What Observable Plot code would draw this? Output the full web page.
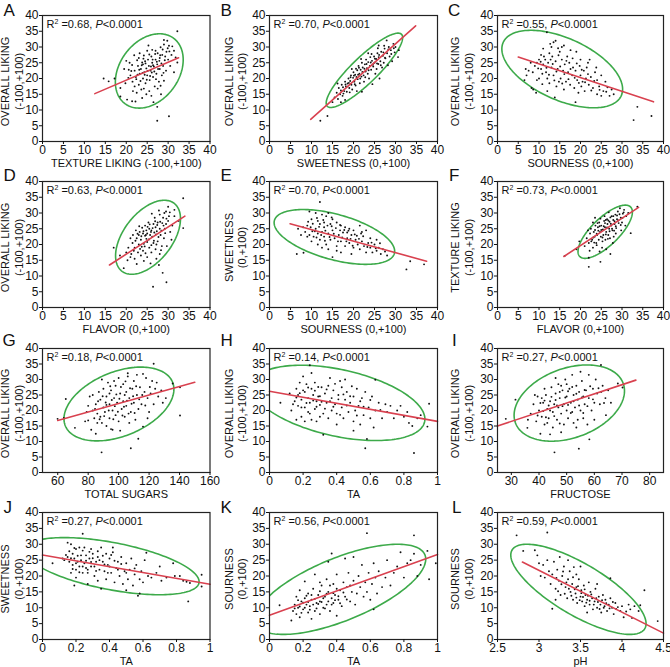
<!DOCTYPE html>
<html><head><meta charset="utf-8">
<script src="https://cdn.jsdelivr.net/npm/d3@7"></script>
<script src="https://cdn.jsdelivr.net/npm/@observablehq/plot@0.6"></script>
<style>
body{margin:0;background:#fff;}
#chart{position:relative;width:670px;height:667px;background:#fff;overflow:hidden;font-family:"Liberation Sans",Arial,sans-serif;}
#chart svg{position:absolute;}
</style></head><body><div id="chart"></div>
<script>
// ---------- data ----------
const panelLetters = ["A","B","C","D","E","F","G","H","I","J","K","L"];
const xLabels = ["TEXTURE LIKING (-100,+100)","SWEETNESS (0,+100)","SOURNESS (0,+100)",
  "FLAVOR (0,+100)","SOURNESS (0,+100)","FLAVOR (0,+100)",
  "TOTAL SUGARS","TA","FRUCTOSE","TA","TA","pH"];
const yLabels = [
  ["OVERALL LIKING","(-100,+100)"],["OVERALL LIKING","(-100,+100)"],["OVERALL LIKING","(-100,+100)"],
  ["OVERALL LIKING","(-100,+100)"],["SWEETNESS","(0,+100)"],["TEXTURE LIKING","(-100,+100)"],
  ["OVERALL LIKING","(-100,+100)"],["OVERALL LIKING","(-100,+100)"],["OVERALL LIKING","(-100,+100)"],
  ["SWEETNESS","(0,+100)"],["SOURNESS","(0,+100)"],["SOURNESS","(0,+100)"]];
const r2Values = ["0.68","0.70","0.55","0.63","0.70","0.73","0.18","0.14","0.27","0.27","0.56","0.59"];
const pText = "P<0.0001";
const xDomains = [[0,40],[0,40],[0,40],[0,40],[0,40],[0,40],[50,160],[0,1],[25,85],[0,1],[0,1],[2.5,4.5]];
const ticks0to40 = [0,5,10,15,20,25,30,35,40];
const ticksTA = [0,0.2,0.4,0.6,0.8,1];
const xTicks = [ticks0to40,ticks0to40,ticks0to40,ticks0to40,ticks0to40,ticks0to40,
  [60,80,100,120,140,160],ticksTA,[30,40,50,60,70,80],ticksTA,ticksTA,[2.5,3,3.5,4,4.5]];
const yTicks = ticks0to40;
const yDomain = [0,40];

// regression line end points
const regressions = [
  [[12.5,15.2],[32.5,26.6]],
  [[9.8,7.05],[34.8,36.7]],
  [[5,26.8],[37.6,12.6]],
  [[16,13.5],[34,29]],
  [[4.9,26.6],[37.4,14.7]],
  [[16,16.2],[34,31.8]],
  [[60,16.8],[150,29.1]],
  [[0,26.2],[1,16.5]],
  [[25,15],[75,29.8]],
  [[0,26.6],[1,17.4]],
  [[0,7.6],[1,26.8]],
  [[2.8,24.4],[4.5,2.0]]
];
// confidence ellipses: centre, half extents, correlation
const ellipses = [
  {mx:25.5, my:22.4, A:8.1, B:11.8, r:0.3},
  {mx:22.6, my:22.6, A:9.1, B:11.8, r:0.88},
  {mx:15.6, my:23, A:14.55, B:12.3, r:-0.52},
  {mx:25.2, my:22.3, A:7.75, B:11.75, r:0.5},
  {mx:15.45, my:22.4, A:14.35, B:8.7, r:-0.52},
  {mx:25.95, my:24.05, A:6.55, B:8.45, r:0.74},
  {mx:100.2, my:22.1, A:36.1, B:11.9, r:0.4},
  {mx:0.41, my:22.45, A:0.515, B:12.15, r:-0.43},
  {mx:50.95, my:22.4, A:19.95, B:12.3, r:0.32},
  {mx:0.414, my:23.1, A:0.521, B:9.0, r:-0.544},
  {mx:0.422, my:15.8, A:0.508, B:14.2, r:0.669},
  {mx:3.475, my:15.8, A:0.815, B:14.2, r:-0.76}
];

const pointsA = [[32.2,35],[14.6,20],[15.8,19.1],[17.2,20],[18.6,17],[19.5,23],[20,25.6],[20.8,25],[18.6,14.3],[20.2,13.3],[21.4,12.8],[22.2,12.7],[21.9,27.4],[23.8,25.1],[24.2,27.3],[25,28.8],[26.2,29.1],[27,28.8],[28.2,29.9],[29,32.2],[29.8,32],[30.2,30.4],[31.4,28.8],[31.8,26.7],[32.2,25.1],[31.4,22],[27.4,11],[27.4,6.6],[30.2,8],[28.2,17.7],[29,19.3],[21,21],[21.5,19],[22,22.5],[22.3,20.5],[22.8,24],[23,18],[23.2,21.5],[23.5,23],[23.6,16.5],[24,24.5],[24,20],[24.3,22],[24.5,25.5],[24.6,18.5],[24.8,23.2],[25,21],[25.2,26],[25.4,24],[25.5,16],[25.6,19.5],[25.8,22.5],[26,27],[26,14.5],[26.2,25],[26.4,20.5],[26.6,23.8],[26.8,17.5],[27,26],[27.2,21.5],[27.4,24.5],[27.5,28],[27.8,19],[28,23],[28,26.5],[28.3,15],[28.5,21],[28.6,27.5],[28.8,24],[29.2,25.8],[29.5,22.5],[29.6,28.5],[30,26],[30.5,24],[30.8,27.5],[21.6,16],[22.5,15.5],[23,26.5],[20.5,20.2],[19.8,18.5],[20.6,22.8],[22,17.5],[23.8,13.8],[24.8,15],[26.5,12.5],[25.3,30.5],[23.2,28],[21.4,24.3],[22.7,21.2],[24.1,26.3],[26.1,21.9],[27.1,19.8],[29,30.8],[31,30.2],
  [22.4,19.8],[23.1,22.8],[23.7,24.2],[24.4,21.2],[24.9,19.6],[25.5,27.6],[25.9,23.8],[26.3,26],[26.7,22.2],[27.3,25.3],[27.6,23],[28.1,27.4],[28.4,24.8],[28.9,21.8],[29.3,27],[29.9,29.6],[24.2,16.8],[23.4,19.2],[22.6,25.8],[21.2,22.4],[25.1,22.4],[26.9,27.8],[27.9,25.6],[28.7,29.2],[30.3,28.6],[26.4,24.2],[25.7,20.8],[24.6,24.8],[23.9,21.8],[27.5,16.8]];
const pointsB = [[12.1,6.6],[13.8,8.1],[15,12.5],[15.5,14],[16,15.5],[16.3,13.5],[16.5,17],[16.8,15],[17,16.2],[17.2,18],[17.4,14.5],[17.5,17.2],[17.8,16],[18,19],[18.2,17.5],[18.4,15.8],[18.6,18.4],[18.8,20],[19,17],[19.2,19.2],[19.4,21],[19.5,18],[19.7,16.5],[19.9,20.2],[20,22],[20.2,19],[20.4,21.2],[20.5,17.8],[20.7,20.5],[20.9,22.6],[21,19.8],[21.2,24],[21.4,21.5],[21.5,18.5],[21.7,22.8],[21.9,20.6],[22,25],[22.2,23.5],[22.4,21],[22.5,19],[22.7,24.5],[22.9,22.2],[23,26],[23.2,23.3],[23.4,21.5],[23.5,25.2],[23.7,20],[23.9,24],[24,26.8],[24.2,22.8],[24.4,25.6],[24.5,18.2],[24.7,23.8],[24.9,27],[25,25],[25.2,21.5],[25.4,26.2],[25.5,23],[25.7,28],[25.9,24.6],[26,26.8],[26.2,20],[26.4,25.5],[26.6,28.5],[26.8,23.5],[27,27.2],[27.2,25],[27.4,29.5],[27.6,26.4],[27.9,32.1],[28,28],[28.2,24.2],[28.4,30],[28.6,27],[28.9,29],[29.2,25.5],[29.5,31],[29.8,28.3],[30,30],[30.6,26.8],[30.8,29],[17,12.5],[18,13.2],[22,15.8],[20.8,16],[23.5,28],[21.8,26.2],[26,30.5],[19.6,23],[16.2,18.4],
  [18.1,18.1],[18.9,18.6],[19.3,20.4],[20.1,20.9],[20.6,23.1],[21.1,21.2],[21.6,20],[22.1,22.1],[22.6,23.1],[23.1,24.6],[23.6,22.6],[24.1,25.1],[24.6,24.4],[25.1,26.3],[25.6,24.8],[26.1,27.5],[26.5,24.2],[27.1,28.3],[27.5,26.6],[28.3,29.2],[29,27.8],[29.6,29.6],[17.6,15.2],[19.1,15.6],[20.3,18.2],[21.3,23.4],[22.8,20.4],[24.3,27.8],[25.8,29.6],[27.3,30.4]];
const pointsC = [[11.9,34.7],[13.5,31.5],[14,32],[13,30],[12.5,28],[11,29.5],[10.5,27.5],[10,26],[9.5,25],[9,24],[8.5,22],[8,25],[7.5,22.5],[7,21],[6.5,19.5],[6.8,23],[8.2,17],[8.6,16.5],[9.3,15.5],[10,20],[10.5,23],[11,24.5],[11.5,26],[11.7,22],[12,20],[12.2,25],[12.5,18.5],[13,23.5],[13.2,27],[13.5,21],[14,25.5],[14.2,17.5],[14.5,23],[15,28.5],[15.2,20],[15.5,26],[15.8,22.5],[16,16.5],[16.2,24.5],[16.5,19],[16.8,27],[17,22],[17.3,25],[17.5,18],[18,21],[18.2,23.5],[18.5,17],[18.8,22.5],[19,28.5],[19.2,19.5],[19.5,15.5],[19.8,24],[20,21],[20.2,17.5],[20.5,19],[20.8,22.5],[21,16],[21.3,20],[21.5,23.5],[22,18],[22.2,26],[22.5,20.5],[23,17],[23.5,22],[24,15],[24,19.5],[24.5,17.5],[25,21],[25,14.5],[25.5,16],[26,19],[26.5,17.2],[27,14.5],[27.5,16.5],[28,15],[18.8,12.5],[15.5,30],[16,30.5],[20,26],[13.8,14],[12,16],[9.5,19.5],[33.7,11],[32.8,6.8],[37.1,8.1],[21.8,25],[23.8,23.5],[17.6,29],[10.8,21.5],[14.8,19],
  [9.8,23.2],[10.4,25.3],[10.8,18.2],[11.2,27],[11.8,23.4],[12.4,21.2],[12.8,26],[13.3,24.6],[13.7,19.4],[14.2,22.2],[14.7,27.4],[15.1,23.8],[15.6,18.4],[16.1,21.4],[16.6,25.6],[17.1,19.8],[17.6,23],[18.1,26.4],[18.6,20.2],[19.1,24.8],[19.6,18.6],[20.3,22.8],[21.1,18.8],[21.8,21.4],[22.6,16.2],[23.3,19.2],[24.6,16.4],[26.2,15.8],[12.7,31],[14.6,29.6]];
const pointsD = [[33.6,34.7],[17,19],[18.5,16.5],[19.4,12.5],[26.4,6.6],[29.6,8],[28.7,11],[33.6,25.2],[32.5,27.5],[31.5,29],[30,32],[29.5,30.5],[28.8,28.5],[28,29.5],[27.5,27],[27,25.5],[26.5,26.5],[26,24.5],[25.5,25],[25,23.5],[24.8,24.5],[24.5,22.8],[24,23.5],[23.5,21.5],[23.2,24],[23,20],[22.5,22],[22,19],[21.8,18],[21.5,20.5],[21.2,17],[21,16],[22,15.5],[22.8,17.5],[23.5,16.5],[24,18],[24.2,14.8],[25,16],[25.5,19],[25.8,14],[26,17.5],[26.5,20.5],[27,18.5],[27.2,15.5],[27.5,21],[28,17],[28.2,23],[28.5,19.5],[29,22],[29.2,25],[29.5,26.5],[30,27.5],[30.5,24],[30.2,29],[31,26],[31.5,31],[26.8,28.5],[27.8,30.8],[25.3,27],[24.5,26],[23.8,25.3],[26.2,22.5],[25,20.8],[24.2,20.2],[23,23],[22.3,24.5],[21,22],[20.5,19],[20,17.5],[22.5,13.8],[27.8,13.5],[29.7,19.5],[28,25],[26.7,23.8],[25.7,23],[24.8,21.8],[23.7,19.3],[27.3,24.2],[28.6,26.8],[30.8,21.5],[20.3,15],[26.1,29.8],
  [22.2,21.2],[22.7,23.4],[23.3,18.6],[23.6,22.6],[24.1,24.2],[24.4,19.4],[24.7,23],[25.1,25.6],[25.4,21.6],[25.9,24],[26.3,25.2],[26.6,21.2],[27.1,23.2],[27.4,26.2],[27.7,22.4],[28.1,27.2],[28.4,24.4],[28.9,26],[29.3,23.6],[29.6,28.2],[30.4,30.2],[26,19.8],[24.6,17.2],[23.1,25.8],[27.2,20],[28.3,18.2],[25.6,26.4],[26.9,27.4],[29.1,30],[21.6,23]];
const pointsE = [[12,33.5],[6.5,17],[8.1,17.4],[32.6,12.1],[33.5,14.7],[36.8,13.7],[9.5,30.5],[11,30],[12.5,29.5],[13.5,29],[14,30],[15,28],[10,28],[11.5,27.5],[12,26.5],[13,27],[14.5,26.5],[16,27],[17,26],[18,25.5],[19,25],[20,24.5],[21.5,26],[22,24],[23,24.5],[9,26],[8,25.5],[6.8,25],[7.5,23],[8.5,24],[9.5,23],[10.5,22.5],[11,25],[11.5,23.5],[12,21.5],[12.5,24],[13,22.5],[13.5,20],[14,23.5],[14.5,21.5],[15,24.5],[15.5,22],[16,19.5],[16.5,23],[17,21],[17.5,23.8],[18,19.5],[18.5,22],[19,20.5],[19.5,23],[20,19],[20.5,21.5],[21,20],[21.5,18.5],[22,21],[22.5,19.5],[23,17.5],[23.5,20.5],[24,19],[24.5,17.5],[25,20],[25.5,18],[26,19],[26.5,17],[27,18.5],[27.5,17.8],[28,16.5],[10,21],[9,22.5],[15,16],[16,18],[14,18.5],[12.5,19],[17,17.5],[19.5,17],[24,22],[25.5,21.5],[11.5,20],[13,25.5],[10.2,24.2],[14.8,25.8],[16.8,24.5],[18.5,23.8],[20.8,22.8],[21.8,23.5],[9.8,25.5],
  [9.2,27.2],[10.3,26.6],[10.8,24.2],[11.3,28.4],[11.8,25.6],[12.3,23],[12.8,27.8],[13.3,24.4],[13.8,26],[14.3,22.4],[14.8,28.6],[15.3,23.4],[15.8,25.2],[16.3,21],[16.8,26.2],[17.3,22.2],[17.8,24.6],[18.3,21],[18.8,24.4],[19.3,21.8],[19.8,19.6],[20.3,23.2],[21.3,21.8],[22.3,22.6],[23.3,19.2],[24.3,20.6],[25.3,18.8],[26.3,20.4],[11.2,22.2],[13.2,21.2]];
const pointsF = [[16.2,16.4],[19,18.5],[19.7,21],[22,12.9],[24.8,14.5],[22,15.8],[32.1,23.6],[33.7,32],[21,19.5],[21.5,22],[22,20.5],[22.3,23.5],[22.5,25],[22.8,21.5],[23,19],[23.2,24],[23.4,22.5],[23.6,26],[23.8,20.5],[24,23],[24.2,25.5],[24.4,21.5],[24.5,27],[24.7,24],[24.9,22.5],[25,26],[25.2,19],[25.4,24.8],[25.5,23],[25.7,27.5],[25.9,25.5],[26,21.5],[26.2,24],[26.4,28],[26.5,26.5],[26.7,23],[26.9,25],[27,27.2],[27.2,17],[27.4,26],[27.5,29],[27.7,24.5],[27.9,27.8],[28,22.5],[28.2,26.5],[28.4,29.5],[28.6,25.2],[28.8,28],[29,30.5],[29.2,26.8],[29.5,31.5],[29.7,28.5],[30,27],[30.2,29.8],[30.5,31],[31,29],[31.5,30],[30.8,26],[23.5,28.5],[22.2,18],[26.2,18.5],[27.8,20.5],[24.6,17.8],[25.8,29],[24.1,26.8],[23,27],[21.8,24.5],[28.5,23.5],[26.8,30.2],[29.8,24.5],[25.3,21],[27.1,22],[23.9,19.8],[22.6,21],
  [23.1,22.2],[23.5,24.6],[23.9,23.4],[24.3,24.4],[24.6,25.8],[25,24.6],[25.3,22.2],[25.6,25.8],[25.9,26.8],[26.1,23.2],[26.4,25.4],[26.7,27.6],[27,24.2],[27.3,26.6],[27.6,25],[27.9,29],[28.2,27.4],[28.5,25.8],[28.8,29.2],[29.1,27.6],[29.4,29.6],[29.7,26.2],[30.1,28.4],[24.8,28.2],[26.1,27.8],[27.2,28.6],[23.3,20.6],[26.6,21.8],[28.1,24.4],[30.4,30.2]];
const pointsG = [[65.3,23.7],[59.9,17.3],[64,17.6],[71.3,14.4],[88.8,6.5],[108,7.8],[112.9,10.9],[140.3,18.4],[123,35.1],[140.3,27.5],[135.5,28.7],[78,16.5],[79,19.5],[80,21.5],[81,24.5],[82,13.8],[83,25],[84,17.5],[85,22],[85,12.5],[86,19],[87,26],[88,18],[88,23.5],[89,16],[90,21],[90,27],[91,19.5],[92,24.5],[92,15],[93,29],[94,22],[94,17.5],[95,26.5],[96,20],[96,13.8],[97,24],[98,28],[98,18.5],[99,22.5],[100,30.5],[100,16.5],[101,25.5],[102,20.5],[103,23],[103,28.5],[104,18],[105,26],[105,21.5],[106,31],[107,24],[107,16],[108,19.5],[109,27],[110,22.5],[110,29.5],[111,17],[112,25],[113,20.5],[114,27.5],[115,22],[116,14.8],[117,26],[118,30.5],[119,24],[120,19.5],[121,25.5],[122,29.5],[123,22],[124,27],[126,24.5],[128,26.5],[129,22.5],[131,24],[116,31.8],[106,32],[97,29.5],[92,21.8],[86,16],[83,20],[80,16.8],[95,14],[101,13.5],[89,30],[112,31.5],[119,17.5],[104,25],[94,25.5],
  [84.5,20.5],[86.5,23],[87.5,17.2],[89.5,24.6],[90.5,18.2],[91.5,22.6],[93.5,20],[94.5,27.8],[95.5,23.4],[96.5,17.2],[97.5,21.4],[98.5,25.2],[99.5,19.6],[100.5,23.8],[101.5,27.6],[102.5,18.4],[103.5,21.2],[104.5,29.4],[105.5,23.2],[106.5,19],[107.5,27.2],[108.5,22.2],[109.5,24.6],[110.5,19.2],[111.5,27.8],[113.5,23.6],[115.5,25],[117.5,21.6],[120.5,27.6],[125,29]];
const pointsH = [[0.065,22.5],[0.24,34.6],[0.25,32.1],[0.32,12.2],[0.57,7.8],[0.58,10.8],[0.86,6.3],[0.95,22.2],[0.94,14.8],[0.63,29.9],[0.12,25.5],[0.13,20],[0.15,23],[0.16,27],[0.17,21.5],[0.17,25],[0.18,29],[0.19,18],[0.19,23.5],[0.2,26.5],[0.21,16.5],[0.21,21],[0.22,28.5],[0.23,24],[0.23,19.5],[0.24,22.5],[0.25,27],[0.25,17],[0.26,25],[0.27,20.5],[0.28,23],[0.28,16.5],[0.29,24.5],[0.3,21.8],[0.31,27.5],[0.32,19],[0.33,25.5],[0.34,22.5],[0.35,28],[0.35,17.5],[0.36,30.5],[0.37,24],[0.37,20],[0.38,26.5],[0.39,22],[0.4,15.5],[0.4,19],[0.41,25],[0.42,29.5],[0.43,21],[0.44,17.5],[0.45,23.5],[0.46,26],[0.47,19.5],[0.48,22.5],[0.5,16.5],[0.5,24.5],[0.51,20],[0.52,27],[0.53,21.5],[0.54,15.5],[0.55,24],[0.56,18.5],[0.57,26],[0.59,21],[0.6,17.5],[0.61,24.5],[0.62,14.5],[0.63,20],[0.65,22.5],[0.67,17.5],[0.69,22],[0.7,19.5],[0.72,21.5],[0.74,17.5],[0.76,20],[0.78,21.5],[0.8,18],[0.82,19.5],[0.83,16],[0.85,15],[0.88,17.5],[0.9,18.5],[0.3,18],[0.27,29],[0.45,30],[0.5,13.5],[0.43,27.5],[0.16,17],[0.2,31],
  [0.14,22],[0.16,24.2],[0.18,25.6],[0.19,21],[0.21,26],[0.22,22.4],[0.23,27.4],[0.24,19],[0.26,23.2],[0.27,26.4],[0.28,21.2],[0.29,27.6],[0.3,24.6],[0.31,22.8],[0.33,20.6],[0.34,26.8],[0.36,23],[0.38,21.2],[0.39,28.6],[0.41,23.6],[0.42,18.6],[0.44,25.2],[0.46,21.6],[0.48,24.6],[0.49,27.8],[0.52,18.4],[0.54,23],[0.56,21.2],[0.6,23.4],[0.66,20.2]];
const pointsI = [[28,17.3],[31.5,23.5],[45.6,6.5],[54.4,7.7],[58.2,10.7],[62.4,34.7],[70.2,27.4],[68.5,28.7],[64.2,18.5],[35.8,14.4],[36,17],[37,19],[38,22],[39,16.5],[39.5,24.5],[40,20],[40.5,12.5],[41,18],[41.5,22.5],[42,15.5],[42.5,25],[43,20.5],[43.5,17.5],[44,23],[44.5,27.5],[45,14.5],[45,19.5],[45.5,22],[46,25.5],[46.5,17],[47,21],[47,28.5],[47.5,24],[48,19],[48.5,26.5],[49,15.5],[49,22],[49.5,30],[50,20],[50,24.5],[50.5,17.5],[51,27],[51.5,22.5],[52,19.5],[52,31.5],[52.5,25],[53,21],[53.5,28],[54,17],[54,23.5],[54.5,26],[55,20],[55.5,29.5],[56,24.5],[56.5,22],[57,26.5],[57.5,15.5],[58,31.5],[58,24],[59,20],[59.5,27],[60,22.5],[60.5,30],[61,25.5],[62,22],[62.5,26],[63,28],[64,24],[65,26.5],[66,22.5],[48,13],[44,12.3],[52.5,16],[56,17.5],[60,17],[38.5,25],[42,27],[46,30.5],[50,28.5],[55,32.5],[53.5,14.5],[47.5,15.8],[43,16],[41,24],
  [39.5,18.4],[40.5,22.4],[41.5,19.8],[42.5,17.8],[43.5,21.6],[44.5,24.4],[45.5,18.2],[46.5,21.6],[47.5,26],[48.5,21.4],[49.5,24.2],[50.5,21.8],[51.5,19.2],[52.5,23],[53.5,25.4],[54.5,21.6],[55.5,24.2],[56.5,26.6],[57.5,21.4],[58.5,27.8],[59.5,23.6],[61.5,27.2],[63.5,22.4],[46,23.4],[48,28],[50.5,26.2],[52,27.6],[44,20],[42,23.2],[56,19.2]];
const pointsJ = [[0.06,24],[0.24,33.3],[0.19,17],[0.58,14.5],[0.57,13.8],[0.87,12],[0.95,20.4],[0.95,16.7],[0.62,27.3],[0.12,25.5],[0.13,25],[0.15,26],[0.15,30.5],[0.16,24.5],[0.17,30],[0.17,21],[0.18,27],[0.18,23.5],[0.19,25.5],[0.2,28.5],[0.2,22],[0.21,24.5],[0.22,29],[0.22,23],[0.23,26.5],[0.24,21],[0.24,28],[0.25,24],[0.26,26.5],[0.26,22.5],[0.27,17.5],[0.28,25.5],[0.29,23],[0.3,27],[0.31,20],[0.32,24.5],[0.33,26],[0.34,22],[0.35,29],[0.35,16],[0.36,24.5],[0.37,21.5],[0.38,27],[0.38,19],[0.39,23.5],[0.4,25.5],[0.41,21],[0.42,27.5],[0.43,18],[0.44,22.5],[0.45,24.5],[0.46,20],[0.47,26],[0.48,17.5],[0.49,21.5],[0.5,24],[0.51,19],[0.52,22],[0.53,25.5],[0.54,17],[0.55,20.5],[0.56,23.5],[0.58,19],[0.59,21.5],[0.6,18],[0.61,25],[0.63,20],[0.65,19.5],[0.68,21],[0.7,23],[0.71,18.5],[0.74,19.5],[0.78,24],[0.79,20],[0.82,20],[0.84,18.5],[0.86,18.2],[0.88,17.8],[0.2,19.5],[0.29,28.5],[0.42,29],[0.33,18.5],[0.5,15.5],[0.27,21],
  [0.14,26.6],[0.16,27.8],[0.17,25.6],[0.18,22.2],[0.19,28.8],[0.2,24],[0.21,26.4],[0.22,21.2],[0.23,25],[0.24,23],[0.25,29],[0.26,24.8],[0.27,22],[0.28,27.6],[0.29,24.4],[0.3,25.6],[0.31,23],[0.32,21.6],[0.33,27.8],[0.34,25],[0.36,26.4],[0.37,23.6],[0.39,21],[0.4,23],[0.41,26.6],[0.43,24.8],[0.45,22],[0.47,23.8],[0.5,21],[0.55,22.4]];
const pointsK = [[0.58,33.5],[0.86,32.8],[0.06,10.8],[0.13,6],[0.95,19],[0.99,24],[0.94,27.9],[0.37,27.1],[0.5,26],[0.14,9],[0.15,11],[0.16,8],[0.16,13.5],[0.17,10],[0.18,15.5],[0.18,7],[0.19,12],[0.2,9.5],[0.21,13],[0.21,18.3],[0.22,11],[0.23,8.5],[0.23,14.5],[0.24,10.5],[0.25,6.5],[0.25,12.5],[0.26,16],[0.27,9],[0.27,20.5],[0.28,11.5],[0.29,14],[0.3,8],[0.3,12],[0.31,17],[0.32,10],[0.33,13.5],[0.34,19],[0.34,11],[0.35,24.5],[0.35,15],[0.36,9],[0.37,13],[0.38,17.5],[0.38,11.5],[0.39,14],[0.4,20.5],[0.41,12.5],[0.42,15.5],[0.43,10.5],[0.44,18],[0.45,13.5],[0.46,16.5],[0.47,21],[0.48,12],[0.49,15],[0.5,18.5],[0.51,11],[0.52,14.5],[0.53,20],[0.54,16.5],[0.55,23.5],[0.56,13.5],[0.57,18],[0.58,15],[0.59,21],[0.6,12.5],[0.61,17.5],[0.62,24],[0.63,19.5],[0.64,14.5],[0.65,21.5],[0.67,16.5],[0.69,19.5],[0.7,25],[0.72,17],[0.74,21],[0.76,23],[0.78,27.5],[0.8,19.5],[0.82,24],[0.84,25],[0.86,27],[0.88,20],[0.9,23.5],[0.45,25.5],[0.3,18],[0.62,9.5],[0.4,7.5],
  [0.15,9.8],[0.17,12.4],[0.18,10.4],[0.19,8.4],[0.2,11.6],[0.21,10],[0.22,13.8],[0.23,11.8],[0.24,9.4],[0.25,14],[0.26,11],[0.27,12.8],[0.28,9.8],[0.29,11.2],[0.3,15.2],[0.31,11.8],[0.32,13],[0.33,9.8],[0.34,14.4],[0.35,12],[0.36,17],[0.37,11],[0.38,14.6],[0.39,12.4],[0.4,16],[0.41,13.6],[0.42,11.4],[0.44,14.8],[0.46,12.6],[0.48,17]];
const pointsL = [[2.73,32.8],[3.1,33.7],[2.81,27.9],[2.95,28.1],[4.43,5.8],[4.27,15.5],[3.16,9.7],[3.86,19.3],[2.98,26.5],[3,24],[3.02,20],[3.05,23.5],[3.07,19.5],[3.1,25],[3.12,21.5],[3.14,17.5],[3.16,20.5],[3.18,24.5],[3.2,16],[3.22,22],[3.24,18.5],[3.26,14],[3.28,20],[3.3,23],[3.32,16.5],[3.34,13],[3.35,19],[3.37,21.5],[3.38,15],[3.4,17.5],[3.41,12.5],[3.42,22.8],[3.44,14.5],[3.45,16.5],[3.46,11.5],[3.48,19],[3.5,13.5],[3.51,15.5],[3.52,12],[3.54,17],[3.55,10.5],[3.56,14],[3.58,12.5],[3.6,18],[3.61,11],[3.62,15],[3.64,13],[3.65,9.5],[3.67,12],[3.68,16],[3.7,10],[3.72,13.5],[3.74,11],[3.75,8.5],[3.77,14],[3.79,10.5],[3.8,12.5],[3.82,9],[3.84,11],[3.86,13],[3.88,10],[3.9,8],[3.92,11.5],[3.95,10.2],[3.98,9],[4,10.5],[4.02,7],[4.05,8.8],[4.08,11],[4.1,9.5],[4.15,10.5],[4.2,9],[4.22,10.8],[4.12,6.8],[3.25,26],[3.35,25],[3.2,12.5],[3.45,20.5],[3.58,8.5],[3.7,17.5],[3.5,23],
  [3.21,19.4],[3.23,15.2],[3.27,17.4],[3.29,21.4],[3.31,14.4],[3.33,18],[3.36,16],[3.39,13.8],[3.41,19.6],[3.43,15.8],[3.45,13.2],[3.47,16.8],[3.49,12.4],[3.51,14.6],[3.53,13.4],[3.55,15.8],[3.57,11.6],[3.59,13.8],[3.61,12.2],[3.63,14.2],[3.66,11],[3.69,13],[3.71,11.8],[3.73,9.6],[3.76,12.4],[3.78,10],[3.81,11.4],[3.85,9.8],[3.89,11.8],[3.93,9.6]];
const panelPoints = [pointsA,pointsB,pointsC,pointsD,pointsE,pointsF,pointsG,pointsH,pointsI,pointsJ,pointsK,pointsL];

// ---------- layout ----------
const colLeft = [42, 269, 496.5], colWidth = [167.5, 168, 166];
const rowTop = [15, 181, 348, 512], rowHeight = [126, 126, 124, 127];
const letterX = [3,220,447, 3,220,448, 2,220,451, 3,220,451];
const letterTop = [3,168,333,500];
const yLabelOffsets = [[-37,-23],[-40,-27],[-42,-28]];
const green = "#3daa4a", red = "#d9414f";
const font = "'Liberation Sans', Arial, sans-serif";

const chart = document.getElementById("chart");
const mL = 50, mR = 8, mT = 20, mB = 34;

panelLetters.forEach((letter, i) => {
  const col = i % 3, row = Math.floor(i / 3);
  const fx = colLeft[col], fw = colWidth[col], fy = rowTop[row], fh = rowHeight[row];
  const e = ellipses[i];
  const s = Math.sqrt(1 - e.r * e.r);
  const ell = d3.range(0, 181).map(k => {
    const t = k / 180 * 2 * Math.PI;
    return [e.mx + e.A * Math.cos(t), e.my + e.B * (e.r * Math.cos(t) + s * Math.sin(t))];
  });
  const fmt = d => String(d);
  const svg = Plot.plot({
    width: mL + fw + mR, height: mT + fh + mB,
    marginLeft: mL, marginRight: mR, marginTop: mT, marginBottom: mB,
    style: {fontFamily: font, fontSize: "12px", overflow: "visible", background: "transparent", color: "#111"},
    x: {domain: xDomains[i]},
    y: {domain: yDomain},
    marks: [
      Plot.line(ell, {x: d => d[0], y: d => d[1], stroke: green, strokeWidth: 1.6, clip: true}),
      Plot.dot(panelPoints[i], {x: d => d[0], y: d => d[1], r: 0.95, fill: "#111"}),
      Plot.line(regressions[i], {x: d => d[0], y: d => d[1], stroke: red, strokeWidth: 1.6}),
      Plot.frame({stroke: "#222", strokeWidth: 1.2}),
      Plot.axisX({ticks: xTicks[i], tickFormat: fmt, tickSize: 3, tickPadding: 1, label: null, fontSize: 12}),
      Plot.axisY({ticks: yTicks, tickFormat: fmt, tickSize: 3, tickPadding: 1, label: null, fontSize: 12}),
      Plot.text([`R2 =${r2Values[i]}, ${pText}`], {text: d => d, frameAnchor: "top-left", dx: 4, dy: 5, lineAnchor: "top", textAnchor: "start", fontSize: 11}),
      Plot.text([xLabels[i]], {text: d => d, frameAnchor: "bottom", dy: 22, lineAnchor: "middle", textAnchor: "middle", fontSize: 11}),
      Plot.text([yLabels[i][0]], {text: d => d, frameAnchor: "left", rotate: -90, dx: yLabelOffsets[col][0], dy: 3, lineAnchor: "middle", textAnchor: "middle", fontSize: 11}),
      Plot.text([yLabels[i][1]], {text: d => d, frameAnchor: "left", rotate: -90, dx: yLabelOffsets[col][1], dy: 3, lineAnchor: "middle", textAnchor: "middle", fontSize: 11}),
      Plot.text([letter], {text: d => d, frameAnchor: "top-left", dx: letterX[i] - fx, dy: letterTop[row] - fy, lineAnchor: "top", textAnchor: "start", fontSize: 17})
    ]
  });
  svg.style.left = (fx - mL) + "px";
  svg.style.top = (fy - mT) + "px";
  // superscript 2 and italic P in the statistics line
  d3.select(svg).selectAll("text").each(function() {
    const t = this.textContent;
    if (t.startsWith("R2 =")) {
      const rest = t.slice(4).split(", ")[0];
      const sel = d3.select(this);
      sel.text(null);
      sel.append("tspan").text("R");
      sel.append("tspan").attr("dy", -4).attr("font-size", 7).text("2");
      sel.append("tspan").attr("dy", 4).text(" =" + rest + ", ");
      sel.append("tspan").attr("font-style", "italic").text("P");
      sel.append("tspan").text("<0.0001");
    }
  });
  chart.appendChild(svg);
});
</script></body></html>
